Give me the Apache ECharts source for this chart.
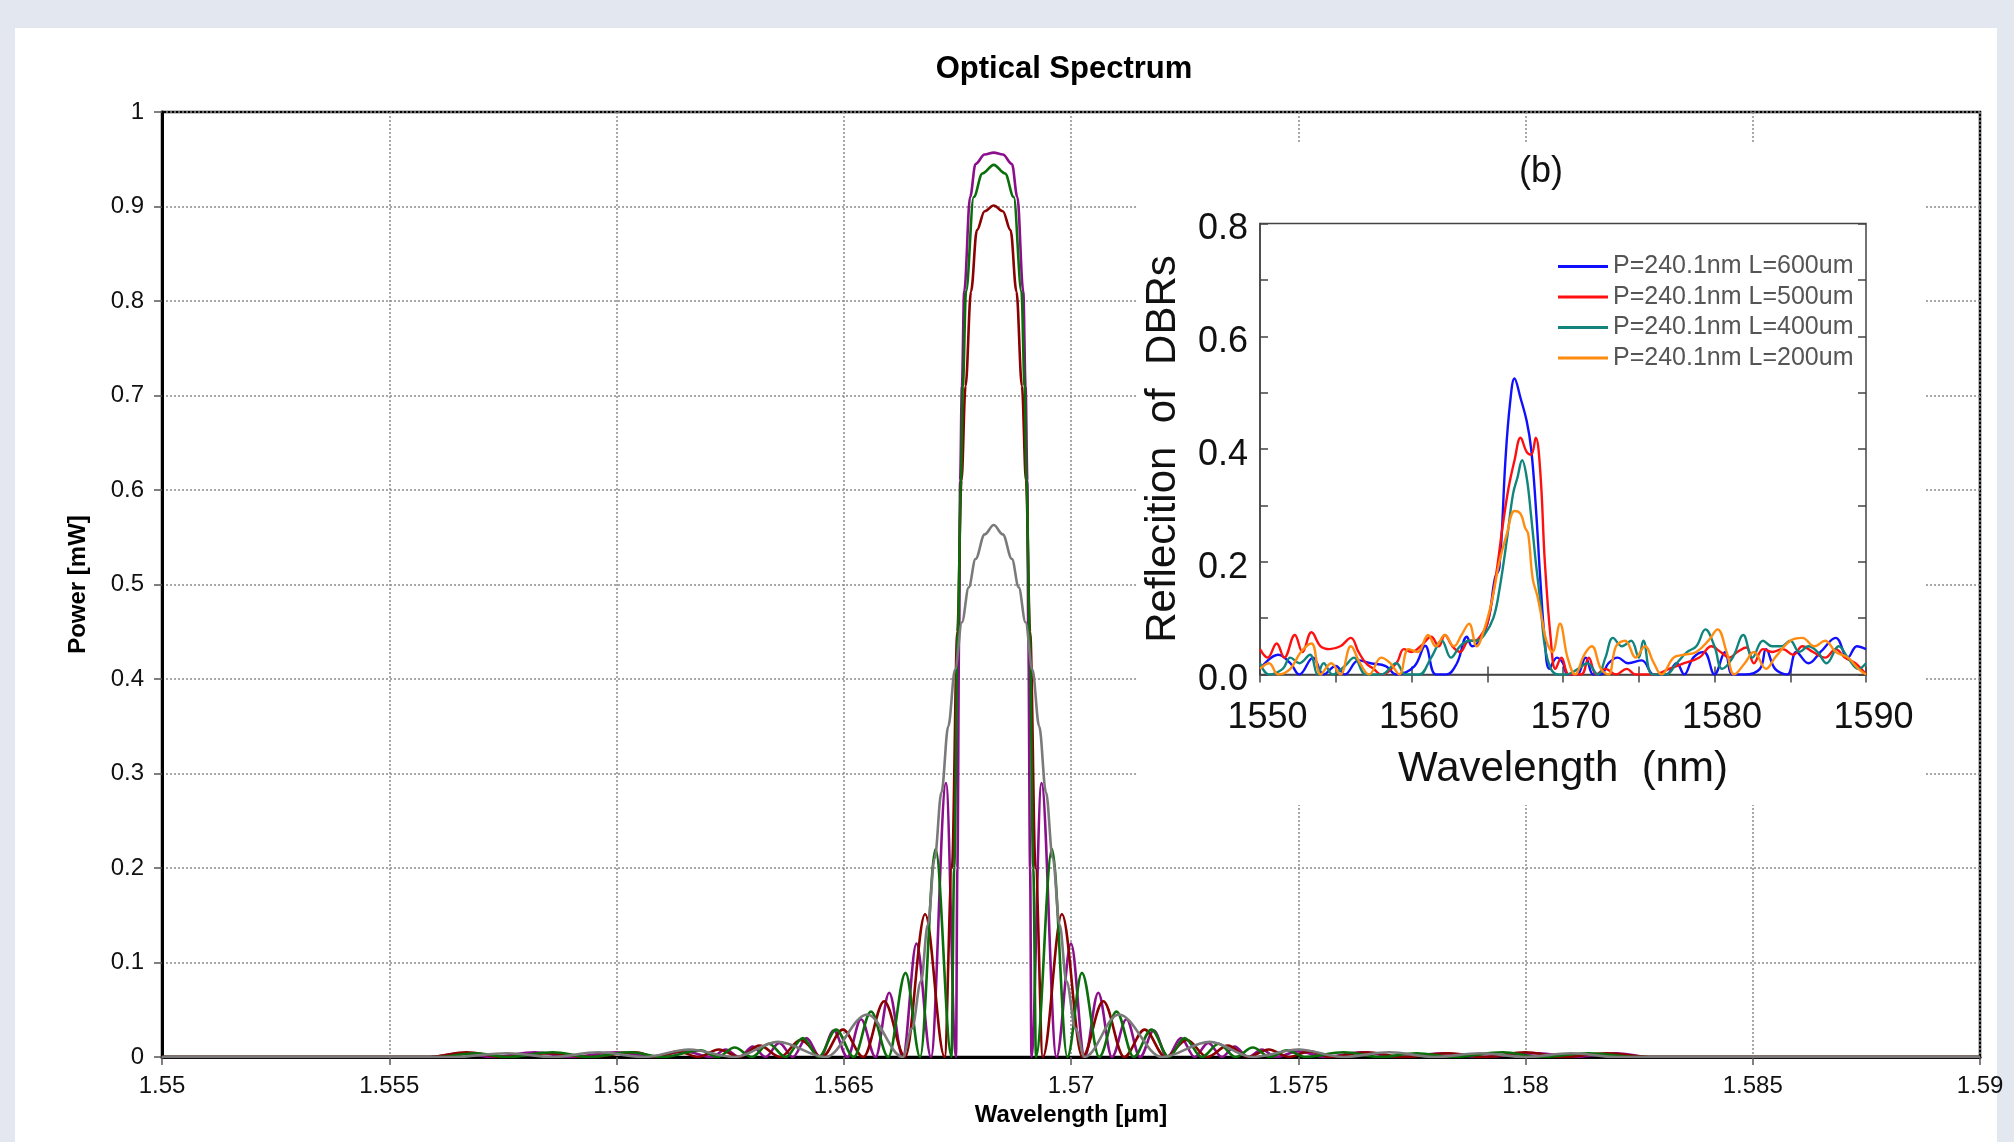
<!DOCTYPE html>
<html>
<head>
<meta charset="utf-8">
<script src="https://cdn.jsdelivr.net/npm/echarts@6/dist/echarts.min.js"></script>
<style>
html,body{margin:0;padding:0;background:#e3e7f0;}
#chart{width:2014px;height:1142px;}
</style>
</head>
<body>
<div id="chart"></div>
<script>
// ---------- Main chart: tick labels ----------
const mainXTickLabels = ['1.55','1.555','1.56','1.565','1.57','1.575','1.58','1.585','1.59'];
const mainYTickLabels = ['0','0.1','0.2','0.3','0.4','0.5','0.6','0.7','0.8','0.9','1'];

// ---------- Main chart: series values, [wavelength nm, power mW] ----------
const purpleSpec = [
[1550,0],[1555.9,0],[1556.6,0.004],[1557.3,0],[1558.2,0.005],[1559.0,0],[1560.0,0.005],[1560.8,0],
[1561.5,0.006],[1562.1,0],[1562.4,0.008],[1562.7,0],[1563.0,0.011],[1563.28,0],[1563.58,0.015],[1563.88,0],
[1564.18,0.02],[1564.48,0],[1564.78,0.028],[1565.08,0],[1565.38,0.04],[1565.7,0],[1566.0,0.068],[1566.3,0],
[1566.6,0.12],[1566.92,0],[1567.25,0.29],[1567.47,0],
[1567.5,0.2],[1567.54,0.45],[1567.56,0.61],[1567.6,0.71],[1567.65,0.81],[1567.78,0.91],[1567.9,0.945],
[1568.1,0.955],[1568.3,0.957],[1568.5,0.955],[1568.7,0.945],[1568.82,0.91],[1568.95,0.81],[1569.0,0.71],
[1569.04,0.61],[1569.06,0.45],[1569.1,0.2],[1569.13,0],
[1569.35,0.29],[1569.68,0],[1570.0,0.12],[1570.3,0],[1570.6,0.068],[1570.9,0],[1571.22,0.04],[1571.52,0],
[1571.82,0.028],[1572.12,0],[1572.42,0.02],[1572.72,0],[1573.02,0.015],[1573.32,0],[1573.6,0.011],[1573.9,0],
[1574.2,0.008],[1574.5,0],[1575.0,0.006],[1575.6,0],[1576.4,0.005],[1577.2,0],[1578.2,0.004],[1579.0,0],
[1580.3,0.004],[1581.0,0],[1582.0,0.004],[1582.7,0],[1590,0]
];
const greenSpec = [
[1550,0],[1556.1,0],[1556.9,0.004],[1557.6,0],[1558.6,0.005],[1559.4,0],[1560.3,0.005],[1561.0,0],
[1561.85,0.007],[1562.22,0],[1562.6,0.01],[1562.98,0],[1563.35,0.014],[1563.72,0],[1564.1,0.02],[1564.45,0],
[1564.83,0.029],[1565.22,0],[1565.6,0.048],[1565.98,0],[1566.36,0.089],[1566.68,0],[1567.02,0.22],[1567.37,0],
[1567.43,0.2],[1567.51,0.45],[1567.58,0.61],[1567.62,0.71],[1567.69,0.81],[1567.86,0.91],[1568.05,0.935],
[1568.3,0.944],[1568.55,0.935],[1568.74,0.91],[1568.91,0.81],[1568.98,0.71],[1569.02,0.61],[1569.09,0.45],
[1569.17,0.2],[1569.23,0],
[1569.58,0.22],[1569.92,0],[1570.24,0.089],[1570.62,0],[1571.0,0.048],[1571.38,0],[1571.77,0.029],[1572.15,0],
[1572.5,0.02],[1572.88,0],[1573.25,0.014],[1573.62,0],[1574.0,0.01],[1574.38,0],[1574.75,0.007],[1575.15,0],
[1576.0,0.005],[1576.8,0],[1577.6,0.004],[1578.4,0],[1579.5,0.005],[1580.3,0],[1581.4,0.004],[1582.4,0],[1590,0]
];
const redSpec = [
[1550,0],[1555.9,0],[1556.7,0.005],[1557.5,0],[1558.5,0.004],[1559.4,0],[1560.4,0.005],[1560.9,0],
[1561.35,0.006],[1561.8,0],[1562.25,0.008],[1562.7,0],[1563.15,0.012],[1563.6,0],[1564.05,0.018],[1564.52,0],
[1564.98,0.029],[1565.43,0],[1565.89,0.059],[1566.35,0],[1566.79,0.151],[1567.22,0],
[1567.38,0.2],[1567.5,0.45],[1567.59,0.61],[1567.68,0.71],[1567.8,0.81],[1567.93,0.875],[1568.1,0.895],
[1568.3,0.901],[1568.5,0.895],[1568.67,0.875],[1568.8,0.81],[1568.92,0.71],[1569.01,0.61],[1569.1,0.45],
[1569.22,0.2],[1569.38,0],
[1569.8,0.151],[1570.25,0],[1570.71,0.059],[1571.17,0],[1571.62,0.029],[1572.08,0],[1572.55,0.018],[1573.0,0],
[1573.45,0.012],[1573.9,0],[1574.35,0.008],[1574.8,0],[1575.25,0.006],[1575.7,0],[1576.5,0.005],[1577.3,0],
[1578.3,0.004],[1579.1,0],[1580.0,0.005],[1580.8,0],[1581.8,0.004],[1582.7,0],[1590,0]
];
const graySpec = [
[1550,0],[1556.4,0],[1557.6,0.004],[1558.6,0],[1559.6,0.005],[1560.6,0],[1561.6,0.008],[1562.6,0],
[1563.55,0.016],[1564.6,0],[1565.52,0.045],[1566.3,0],
[1566.5,0.03],[1566.7,0.08],[1566.85,0.14],[1567.0,0.21],[1567.15,0.28],[1567.3,0.35],[1567.45,0.41],
[1567.6,0.46],[1567.75,0.497],[1567.9,0.527],[1568.1,0.553],[1568.3,0.563],[1568.5,0.553],[1568.7,0.527],
[1568.85,0.497],[1569.0,0.46],[1569.15,0.41],[1569.3,0.35],[1569.45,0.28],[1569.6,0.21],[1569.75,0.14],
[1569.9,0.08],[1570.1,0.03],[1570.3,0],
[1571.05,0.045],[1572.0,0],[1573.05,0.016],[1574.0,0],[1575.0,0.008],[1576.0,0],[1577.0,0.005],[1578.0,0],
[1579.0,0.004],[1580.0,0],[1581.0,0.004],[1582.0,0],[1590,0]
];

// ---------- Inset chart ----------
const insetXTickLabels = ['1550','1560','1570','1580','1590'];
const insetYTickLabels = ['0.0','0.2','0.4','0.6','0.8'];
const insetNames = ['P=240.1nm L=600um','P=240.1nm L=500um','P=240.1nm L=400um','P=240.1nm L=200um'];

const inset600 = [
[1550,0.01],[1551.2,0.035],[1552.0,0.02],[1552.6,0],[1553.5,0.03],[1554.2,0],[1555.0,0.015],[1555.6,0],
[1556.5,0.025],[1557.3,0.02],[1558.3,0.015],[1559.0,0],[1560.2,0.015],[1560.9,0.051],[1561.6,0],[1562.3,0],
[1563.0,0.02],[1563.66,0.067],[1564.0,0.05],[1564.6,0.065],[1565.1,0.1],[1565.5,0.17],[1565.8,0.19],
[1566.2,0.38],[1566.5,0.48],[1566.8,0.525],[1567.2,0.49],[1567.6,0.45],[1567.9,0.4],[1568.2,0.3],
[1568.5,0.17],[1568.8,0.06],[1569.1,0.01],[1569.6,0.03],[1570.0,0.02],[1570.3,0],[1570.9,0],[1571.5,0.03],
[1572.0,0],[1572.5,0],[1573.0,0.02],[1573.6,0.03],[1574.3,0.02],[1575.2,0.025],[1576.0,0],[1576.8,0],
[1577.5,0.02],[1578.0,0],[1578.6,0.03],[1579.3,0.04],[1580.0,0],[1580.7,0.04],[1581.2,0],[1582.0,0],
[1583.0,0.01],[1583.4,0.045],[1584.0,0.01],[1584.8,0],[1585.4,0.04],[1586.2,0.02],[1587.0,0.04],
[1588.0,0.065],[1588.8,0.03],[1589.4,0.05],[1590,0.045]
];
const inset500 = [
[1550,0.045],[1550.5,0.03],[1551.1,0.055],[1551.6,0.03],[1552.3,0.07],[1552.8,0.04],[1553.4,0.075],
[1554.0,0.05],[1554.6,0.045],[1555.3,0.05],[1556.0,0.065],[1556.5,0.04],[1557.0,0.02],[1557.5,0.01],
[1558.0,0],[1559.0,0.02],[1559.5,0.045],[1560.0,0.04],[1560.6,0.05],[1561.3,0.067],[1561.8,0.05],
[1562.2,0.07],[1562.7,0.05],[1563.2,0.04],[1563.8,0.06],[1564.2,0.06],[1564.6,0.07],[1565.0,0.09],
[1565.6,0.18],[1566.0,0.26],[1566.4,0.33],[1566.8,0.38],[1567.2,0.42],[1567.6,0.395],[1567.9,0.39],
[1568.2,0.42],[1568.5,0.36],[1568.8,0.2],[1569.2,0.06],[1569.5,0.01],[1569.9,0.03],[1570.4,0],[1571.2,0],
[1571.7,0.03],[1572.2,0],[1572.8,0.01],[1573.5,0],[1574.2,0.01],[1574.8,0],[1576.0,0],[1577.0,0.01],
[1578.0,0.02],[1579.0,0.03],[1579.8,0.05],[1580.4,0.04],[1581.0,0.03],[1581.5,0.04],[1582.1,0.048],
[1582.6,0.02],[1583.2,0.045],[1583.8,0.04],[1584.5,0.045],[1585.2,0.035],[1585.8,0.05],[1586.5,0.04],
[1587.3,0.03],[1588.0,0.045],[1588.6,0.03],[1589.3,0.02],[1590,0]
];
const inset400 = [
[1550,0.02],[1550.6,0],[1551.5,0.01],[1552.0,0.03],[1552.6,0.02],[1553.3,0.035],[1553.8,0],[1554.2,0.02],
[1554.8,0],[1555.6,0.015],[1556.2,0.03],[1557.0,0],[1558.0,0],[1559.0,0.02],[1559.6,0],[1560.5,0],
[1561.3,0.03],[1562.0,0.06],[1562.6,0.03],[1563.2,0.05],[1563.8,0.06],[1564.3,0.06],[1564.8,0.07],
[1565.4,0.1],[1565.8,0.15],[1566.3,0.24],[1566.7,0.32],[1567.0,0.35],[1567.3,0.38],[1567.6,0.35],
[1567.9,0.28],[1568.2,0.2],[1568.5,0.13],[1568.8,0.05],[1569.2,0.01],[1569.7,0],[1570.2,0],[1571.0,0.01],
[1571.6,0.02],[1572.3,0],[1572.8,0.03],[1573.3,0.065],[1573.9,0.05],[1574.5,0.06],[1575.0,0.03],
[1575.3,0.06],[1575.9,0],[1576.8,0],[1577.5,0.02],[1578.2,0.04],[1578.8,0.05],[1579.4,0.08],[1580.0,0.05],
[1580.5,0.01],[1581.2,0.03],[1581.9,0.07],[1582.5,0.03],[1583.2,0.06],[1583.8,0.05],[1584.4,0.05],
[1585.0,0.06],[1585.6,0.04],[1586.2,0.05],[1586.8,0.04],[1587.4,0.02],[1588.2,0.05],[1588.8,0.03],
[1589.5,0.01],[1590,0.02]
];
const inset200 = [
[1550,0.01],[1550.6,0.02],[1551.2,0],[1552.0,0.01],[1552.7,0.04],[1553.4,0.055],[1554.0,0],[1554.7,0.02],
[1555.3,0],[1556.0,0.05],[1556.6,0.02],[1557.2,0],[1558.0,0.03],[1558.6,0.02],[1559.2,0],[1559.8,0.045],
[1560.4,0.04],[1561.1,0.07],[1561.6,0.05],[1562.2,0.07],[1562.8,0.05],[1563.3,0.07],[1563.8,0.09],
[1564.3,0.05],[1564.8,0.08],[1565.3,0.13],[1565.8,0.2],[1566.3,0.25],[1566.8,0.29],[1567.2,0.285],
[1567.5,0.26],[1567.7,0.25],[1568.0,0.17],[1568.3,0.14],[1568.6,0.1],[1568.9,0.06],[1569.3,0.04],
[1569.8,0.09],[1570.3,0.03],[1570.8,0],[1571.4,0.035],[1571.9,0.05],[1572.5,0.01],[1573.0,0],[1573.5,0.05],
[1574.1,0.06],[1574.8,0.03],[1575.4,0.05],[1576.0,0.02],[1576.5,0],[1577.3,0.03],[1578.0,0.035],
[1578.8,0.04],[1579.6,0.06],[1580.2,0.08],[1580.8,0.04],[1581.3,0],[1582.0,0.02],[1582.6,0.04],
[1583.4,0.01],[1584.0,0.03],[1585.0,0.06],[1585.8,0.065],[1586.6,0.05],[1587.3,0.06],[1588.0,0.04],
[1588.8,0.03],[1589.5,0.01],[1590,0]
];

const FONT = '"Liberation Sans", Arial, sans-serif';
const chart = echarts.init(document.getElementById('chart'), null, {renderer: 'canvas'});

function mainLine(name, data, color) {
  return {
    name: name, type: 'line', xAxisIndex: 0, yAxisIndex: 0, data: data,
    showSymbol: false, smooth: 0.35, smoothMonotone: 'x', silent: true, clip: true,
    lineStyle: {color: color, width: 2.6}, itemStyle: {color: color}, z: 3
  };
}
function insetLine(name, data, color) {
  return {
    name: name, type: 'line', xAxisIndex: 1, yAxisIndex: 1, data: data,
    showSymbol: false, smooth: 0.4, silent: true, clip: true,
    lineStyle: {color: color, width: 2.4}, itemStyle: {color: color}, z: 12
  };
}

const option = {
  animation: false,
  backgroundColor: '#e3e7f0',
  title: {
    text: 'Optical Spectrum', left: 1059, top: 49, textAlign: 'center',
    textStyle: {fontFamily: FONT, fontSize: 31, fontWeight: 'bold', color: '#000'}
  },
  graphic: [
    {type: 'rect', shape: {x: 15, y: 28, width: 1982, height: 1114}, style: {fill: '#ffffff'}, z: -10, silent: true},
    {type: 'rect', shape: {x: 1138, y: 143, width: 786, height: 662}, style: {fill: '#ffffff'}, z: 8, silent: true},
    {type: 'text', x: 1541, y: 172, z: 9, style: {text: '(b)', fontFamily: FONT, fontSize: 36, fill: '#111', align: 'center', verticalAlign: 'middle'}}
  ],
  legend: {
    data: insetNames, orient: 'vertical', left: 1553, top: 249, z: 14,
    icon: 'rect', itemWidth: 50, itemHeight: 3, itemGap: 5.5,
    textStyle: {fontFamily: FONT, fontSize: 25, color: '#555', lineHeight: 25},
    selectedMode: false
  },
  grid: [
    {left: 162, top: 112, width: 1818, height: 945, show: true, backgroundColor: '#fff', borderColor: '#000', borderWidth: 2.5, containLabel: false},
    {left: 1260, top: 223.5, width: 606, height: 451, show: true, backgroundColor: 'rgba(0,0,0,0)', borderColor: '#444', borderWidth: 1.5, z: 10}
  ],
  xAxis: [
    {
      type: 'value', gridIndex: 0, min: 1550, max: 1590, interval: 5,
      name: 'Wavelength [\u03bcm]', nameLocation: 'middle', nameGap: 42,
      nameTextStyle: {fontFamily: FONT, fontSize: 24, fontWeight: 'bold', color: '#000'},
      axisLine: {show: true, onZero: false, lineStyle: {color: '#000', width: 3}},
      axisTick: {show: true, inside: false, length: 8, lineStyle: {color: '#555', width: 1.5}},
      axisLabel: {margin: 17, fontFamily: FONT, fontSize: 24, color: '#111',
        formatter: v => mainXTickLabels[Math.round((v - 1550) / 5)]},
      splitLine: {show: true, lineStyle: {color: '#8c8c8c', width: 1.5, type: [2, 2]}}
    },
    {
      type: 'value', gridIndex: 1, min: 1550, max: 1590, interval: 5, position: 'bottom', z: 11,
      name: 'Wavelength  (nm)', nameLocation: 'middle', nameGap: 74,
      nameTextStyle: {fontFamily: FONT, fontSize: 42, color: '#111'},
      axisLine: {show: true, onZero: false, lineStyle: {color: '#444', width: 1.5}},
      axisTick: {show: true, inside: true, length: 8, lineStyle: {color: '#444', width: 1.5}},
      axisLabel: {margin: 26, fontFamily: FONT, fontSize: 36, color: '#111', padding: [0, 0, 0, 15],
        formatter: v => (Math.round(v) % 10 === 0 ? insetXTickLabels[Math.round((v - 1550) / 10)] : '')},
      splitLine: {show: false}
    },
    {
      type: 'value', gridIndex: 1, min: 1550, max: 1590, interval: 5, position: 'top', z: 11,
      axisLine: {show: false}, axisLabel: {show: false}, splitLine: {show: false},
      axisTick: {show: true, inside: true, length: 8, lineStyle: {color: '#444', width: 1.5}}
    }
  ],
  yAxis: [
    {
      type: 'value', gridIndex: 0, min: 0, max: 1, interval: 0.1,
      name: 'Power [mW]', nameLocation: 'middle', nameGap: 72,
      nameTextStyle: {fontFamily: FONT, fontSize: 24, fontWeight: 'bold', color: '#000'},
      axisLine: {show: true, onZero: false, lineStyle: {color: '#000', width: 3}},
      axisTick: {show: true, inside: false, length: 8, lineStyle: {color: '#555', width: 1.5}},
      axisLabel: {margin: 18, fontFamily: FONT, fontSize: 24, color: '#111',
        formatter: v => mainYTickLabels[Math.round(v * 10)]},
      splitLine: {show: true, lineStyle: {color: '#8c8c8c', width: 1.5, type: [2, 2]}}
    },
    {
      type: 'value', gridIndex: 1, min: 0, max: 0.8, interval: 0.1, position: 'left', z: 11,
      name: 'Reflecition  of  DBRs', nameLocation: 'middle', nameGap: 76,
      nameTextStyle: {fontFamily: FONT, fontSize: 42, color: '#111'},
      axisLine: {show: true, onZero: false, lineStyle: {color: '#444', width: 1.5}},
      axisTick: {show: true, inside: true, length: 8, lineStyle: {color: '#444', width: 1.5}},
      axisLabel: {margin: 12, fontFamily: FONT, fontSize: 36, color: '#111', verticalAlign: 'top', padding: [-12, 0, 0, 0],
        formatter: v => { const i = Math.round(v * 10); return i % 2 === 0 ? insetYTickLabels[i / 2] : ''; }},
      splitLine: {show: false}
    },
    {
      type: 'value', gridIndex: 1, min: 0, max: 0.8, interval: 0.1, position: 'right', z: 11,
      axisLine: {show: false}, axisLabel: {show: false}, splitLine: {show: false},
      axisTick: {show: true, inside: true, length: 8, lineStyle: {color: '#444', width: 1.5}}
    }
  ],
  series: [
    mainLine('purple', purpleSpec, '#8b0f8b'),
    mainLine('darkred', redSpec, '#8b0000'),
    mainLine('green', greenSpec, '#0a6e0a'),
    mainLine('gray', graySpec, '#7a7a7a'),
    insetLine(insetNames[0], inset600, '#1010ff'),
    insetLine(insetNames[1], inset500, '#ff1010'),
    insetLine(insetNames[2], inset400, '#11857d'),
    insetLine(insetNames[3], inset200, '#ff8c10')
  ]
};
chart.setOption(option);
</script>
</body>
</html>
